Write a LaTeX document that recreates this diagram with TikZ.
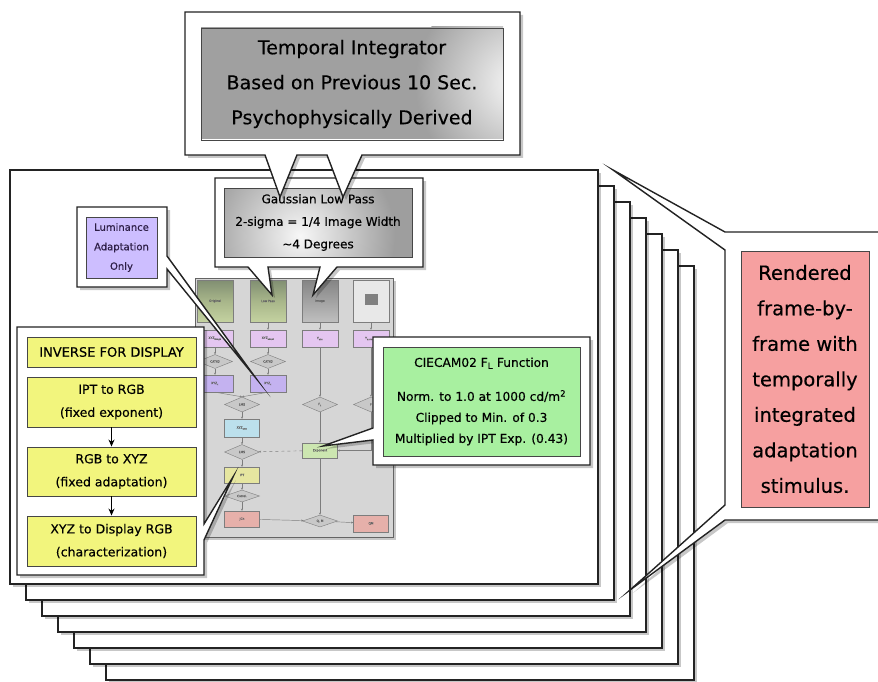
\documentclass[tikz,border=0pt]{standalone}
\usepackage{fontspec}
\setmainfont{DejaVu Sans}[FakeBold=0.35]
\usetikzlibrary{shapes.geometric,shadows,arrows.meta}
\definecolor{edge}{RGB}{35,35,35}
\definecolor{inedge}{RGB}{70,70,70}
\definecolor{topgray}{RGB}{160,160,160}
\definecolor{gaussgray}{RGB}{158,158,158}
\definecolor{lumpurple}{RGB}{205,190,255}
\definecolor{invyellow}{RGB}{242,245,125}
\definecolor{cgreen}{RGB}{168,240,160}
\definecolor{cred}{RGB}{246,160,160}
\definecolor{thumbgray}{RGB}{214,214,214}
\definecolor{thumbedge}{RGB}{100,100,100}
\definecolor{fcline}{RGB}{125,125,125}
\definecolor{fcpurple}{RGB}{228,198,240}
\definecolor{fcdpurple}{RGB}{196,178,240}
\definecolor{fcdiac}{RGB}{200,200,200}
\definecolor{fccyan}{RGB}{188,224,236}
\definecolor{fcgreen}{RGB}{204,230,176}
\definecolor{fcyellow}{RGB}{230,230,160}
\definecolor{fcred}{RGB}{230,176,170}
\definecolor{imgtop}{RGB}{128,142,114}
\definecolor{imgmid}{RGB}{168,182,138}
\definecolor{imgbot}{RGB}{196,210,160}
\newcommand\fctiny{\fontsize{3}{3.5}\selectfont}
\begin{document}
\begin{tikzpicture}[x=1pt,y=-1pt,
  shadowed/.style={drop shadow={shadow xshift=3pt,shadow yshift=-3pt,opacity=.22,fill=black}},
  pagebox/.style={fill=white,draw=edge,line width=1.5pt,shadowed},
  callout/.style={fill=white,draw=edge,line width=1.4pt,line join=miter,miter limit=40,shadowed},
  inbox/.style={draw=inedge,line width=.9pt,inner sep=0pt,align=center,text=black},
  fcbox/.style={draw=fcline,line width=.4pt,inner sep=0pt,minimum width=35,minimum height=17,font=\fctiny,text=black!60},
  fcdia/.style={diamond,aspect=3,draw=fcline,fill=fcdiac,line width=.4pt,inner sep=0pt,minimum width=35,minimum height=14,font=\fctiny,text=black!60},
  fcarrow/.style={draw=fcline,line width=.45pt,-{Stealth[length=2.2pt,width=2pt]}},
  invarrow/.style={draw=black,line width=1pt,-{Stealth[length=7pt,width=6pt]}},
]
\useasboundingbox (0,0) rectangle (878,682);
\fill[white] (0,0) rectangle (878,682);

% stacked frames
\foreach \i in {6,5,4,3,2,1,0}{
  \path[pagebox] ({10+16*\i},{170+16*\i}) rectangle ({598+16*\i},{584+16*\i});
}

% thumbnail flowchart
\node[draw=thumbedge,fill=thumbgray,line width=1pt,minimum width=198,minimum height=259,inner sep=0pt,shadowed] (thumb) at (294,407.5) {};
\node[fcbox,minimum width=36,minimum height=42,top color=imgtop,bottom color=imgbot,middle color=imgmid] (img1) at (215,301) {Original};
\node[fcbox,minimum width=36,minimum height=42,top color=imgtop,bottom color=imgbot,middle color=imgmid] (img2) at (268,301) {Low Pass};
\node[fcbox,minimum width=36,minimum height=42,top color=black!48,bottom color=black!25] (img3) at (320,301) {Image};
\node[fcbox,minimum width=36,minimum height=42,fill=black!9] (img4) at (371,301) {};
\fill[black!50] (365,294) rectangle (378,305);

\node[fcbox,fill=fcpurple,minimum width=36] (p1) at (215,338.5) {XYZ\textsubscript{image}};
\node[fcbox,fill=fcpurple,minimum width=36] (p2) at (268,338.5) {XYZ\textsubscript{adapt}};
\node[fcbox,fill=fcpurple,minimum width=36] (p3) at (320,338.5) {Y\textsubscript{abs}};
\node[fcbox,fill=fcpurple,minimum width=36] (p4) at (371,338.5) {Y\textsubscript{surround}};
\node[fcdia] (d1) at (215,361.5) {CAT02};
\node[fcdia] (d2) at (268,361.5) {CAT02};
\node[fcbox,fill=fcdpurple,minimum width=36] (q1) at (215,383.5) {XYZ\textsubscript{c}};
\node[fcbox,fill=fcdpurple,minimum width=36] (q2) at (268,383.5) {XYZ\textsubscript{c}};
\node[fcdia,minimum height=15] (dm) at (242,404.5) {LMS};
\node[fcdia,minimum height=15] (dfl) at (320,404.5) {F\textsubscript{L}};
\node[fcdia,minimum height=15] (d4) at (371,404.5) {F};
\node[fcbox,fill=fccyan,minimum height=18] (cy) at (242,428) {XYZ\textsubscript{D65}};
\node[fcdia,minimum height=15] (dx) at (242,452) {LMS};
\node[fcbox,fill=fcgreen,minimum height=15] (expo) at (320,450.5) {Exponent};
\node[fcbox,fill=fcyellow,minimum height=16] (ipt) at (242,475) {IPT};
\node[fcdia,minimum height=12] (dy) at (242,496) {Correl.};
\node[fcbox,fill=fcred,minimum height=16] (jch) at (242,519) {JCh};
\node[fcdia,minimum height=12] (dz) at (320,521) {Q, M};
\node[fcbox,fill=fcred,minimum height=17] (qm) at (371,523.5) {QM};

\foreach \k in {1,2,3,4} \draw[fcarrow] (img\k) -- (p\k);
\draw[fcarrow] (p1) -- (d1);
\draw[fcarrow] (d1) -- (q1);
\draw[fcarrow] (p2) -- (d2);
\draw[fcarrow] (d2) -- (q2);
\draw[fcarrow] (q1.south) -- (dm.north);
\draw[fcarrow] (q2.south) -- (dm.north);
\draw[fcarrow] (dm) -- (cy);
\draw[fcarrow] (cy) -- (dx);
\draw[fcarrow] (dx) -- (ipt);
\draw[fcarrow] (ipt) -- (dy);
\draw[fcarrow] (dy) -- (jch);
\draw[fcarrow] (p3) -- (dfl);
\draw[fcarrow] (dfl) -- (expo);
\draw[fcarrow] (expo) -- (dz);
\draw[fcarrow] (p4) -- (d4);
\draw[fcarrow] (d4.south) |- (expo.east);
\draw[fcarrow,dashed] (expo) -- (dx);
\draw[fcarrow] (jch) -- (dz);
\draw[fcarrow] (dz) -- (qm);

% Gaussian callout
\coordinate (gtipA) at (272,295);
\coordinate (gtipB) at (313,295);
\path[callout] (215,178) -- (423,178) -- (423,267) -- (337,267) -- (gtipB) -- (320,267) -- (268,267) -- (gtipA) -- (248,267) -- (215,267) -- cycle;
\fill[gaussgray] (224,188) rectangle (412,257);
\begin{scope}
  \clip (224,188) rectangle (412,257);
  \shade[inner color=white!92!gaussgray,outer color=gaussgray] (300,236) circle (95);
\end{scope}
\node[inbox,minimum width=188,minimum height=69,font=\fontsize{12}{22.5}\selectfont] (gauss) at (318,222.5) {Gaussian Low Pass\\2-sigma = 1/4 Image Width\\\textasciitilde4 Degrees};

% Temporal integrator callout
\coordinate (ttipA) at (280,197);
\coordinate (ttipB) at (343,197);
\path[callout] (185,12) -- (520,12) -- (520,155) -- (362,155) -- (ttipB) -- (327,155) -- (297,155) -- (ttipA) -- (265,155) -- (185,155) -- cycle;
\fill[topgray] (201,27) rectangle (503,139);
\begin{scope}
  \clip (201,27) rectangle (503,139);
  \shade[inner color=white!95!topgray,outer color=topgray] (520,83) circle (105);
\end{scope}
\node[inbox,minimum width=302,minimum height=112,font=\fontsize{19}{35}\selectfont] (temporal) at (352,84) {Temporal Integrator\\Based on Previous 10 Sec.\\Psychophysically Derived};

% Luminance callout
\coordinate (ltip) at (255,377);
\path[callout] (77,207) -- (167,207) -- (167,256) -- (ltip) -- (167,269) -- (167,287) -- (77,287) -- cycle;
\node[inbox,fill=lumpurple,minimum width=71,minimum height=61,font=\fontsize{10}{19.5}\selectfont,text={rgb,255:red,45;green,30;blue,70}] (lum) at (121.5,247.5) {Luminance\\Adaptation\\Only};

% Inverse for display callout
\coordinate (itip) at (233,477);
\path[callout] (17,327) -- (204,327) -- (204,524) -- (itip) -- (204,540) -- (204,575) -- (17,575) -- cycle;
\node[inbox,fill=invyellow,minimum width=169,minimum height=30,font=\fontsize{13}{23}\selectfont] (inv1) at (111.5,352) {INVERSE FOR DISPLAY};
\node[inbox,fill=invyellow,minimum width=169,minimum height=50,font=\fontsize{12.5}{23}\selectfont] (inv2) at (111.5,402) {IPT to RGB\\(fixed exponent)};
\node[inbox,fill=invyellow,minimum width=169,minimum height=49,font=\fontsize{12.5}{23}\selectfont] (inv3) at (111.5,471.5) {RGB to XYZ\\(fixed adaptation)};
\node[inbox,fill=invyellow,minimum width=169,minimum height=50,font=\fontsize{12.5}{23}\selectfont] (inv4) at (111.5,541) {XYZ to Display RGB\\(characterization)};
\draw[invarrow] (inv2) -- (inv3);
\draw[invarrow] (inv3) -- (inv4);

% CIECAM02 callout
\coordinate (ctip) at (323,446);
\path[callout] (373,337) -- (590,337) -- (590,465) -- (373,465) -- (373,440) -- (ctip) -- (373,428) -- cycle;
\node[inbox,fill=cgreen,minimum width=197,minimum height=109,font=\fontsize{12.2}{21}\selectfont] (ciecam) at (481.5,401.5) {CIECAM02 F\textsubscript{L} Function\\[13pt]Norm. to 1.0 at 1000 cd/m\textsuperscript{2}\\Clipped to Min. of 0.3\\Multiplied by IPT Exp. (0.43)};

% Rendered callout
\coordinate (rtipU) at (613,170);
\coordinate (rtipL) at (630,590);
\path[callout] (900,232) -- (725,232) -- (rtipU) -- (725,250) -- (725,505) -- (rtipL) -- (725,520) -- (900,520) -- cycle;
\node[inbox,fill=cred,minimum width=128,minimum height=256,font=\fontsize{19.5}{35.5}\selectfont] (rendered) at (805,379) {Rendered\\frame-by-\\frame with\\temporally\\integrated\\adaptation\\stimulus.};
\end{tikzpicture}
\end{document}
